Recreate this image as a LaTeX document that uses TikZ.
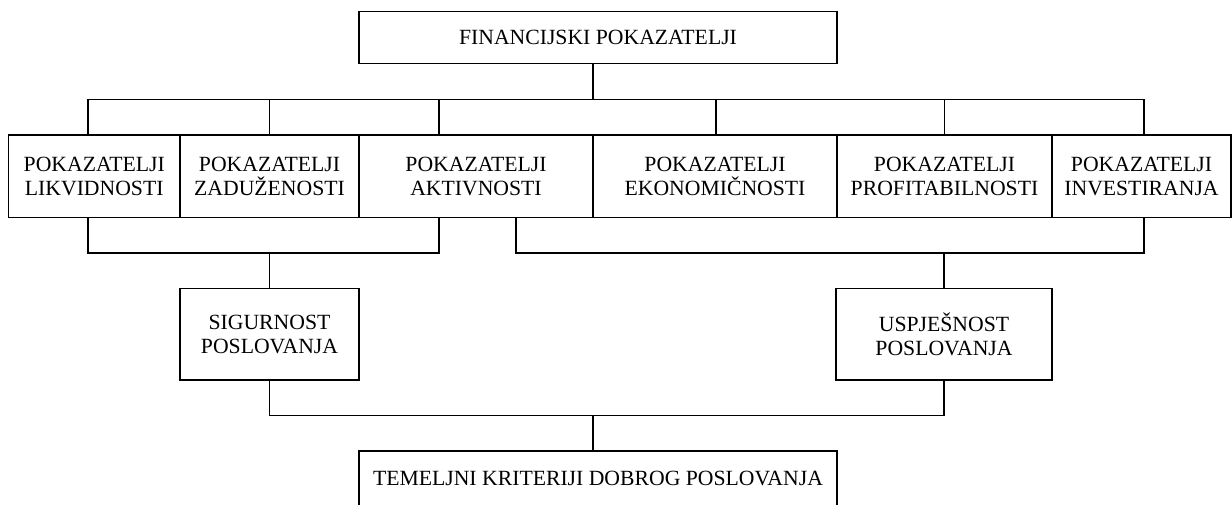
\documentclass[tikz,border=0pt]{standalone}
\usepackage{fontspec}
\setmainfont{Liberation Serif}
\begin{document}
\begin{tikzpicture}[x=1pt,y=-1pt,
  box/.style={draw, line width=1.4pt, inner sep=0pt, align=center,
    font=\fontsize{21.7}{23.3}\selectfont},
  conn/.style={line width=1.4pt}]
\useasboundingbox (0,0) rectangle (1232,504);
% top
\node[box, minimum width=478pt, minimum height=51.8pt] (F) at (598,37.6) {FINANCIJSKI POKAZATELJI};
% row of indicators
\node[box, minimum width=171.5pt, minimum height=82.7pt] (L1) at (94.25,176.35) {POKAZATELJI\\LIKVIDNOSTI};
\node[box, minimum width=179pt, minimum height=82.7pt] (L2) at (269.5,176.35) {POKAZATELJI\\ZADUŽENOSTI};
\node[box, minimum width=234pt, minimum height=82.7pt] (L3) at (476,176.35) {POKAZATELJI\\AKTIVNOSTI};
\node[box, minimum width=244pt, minimum height=82.7pt] (L4) at (715,176.35) {POKAZATELJI\\EKONOMIČNOSTI};
\node[box, minimum width=215pt, minimum height=82.7pt] (L5) at (944.5,176.35) {POKAZATELJI\\PROFITABILNOSTI};
\node[box, minimum width=179pt, minimum height=82.7pt] (L6) at (1141.5,176.35) {POKAZATELJI\\INVESTIRANJA};
% middle
\node[box, minimum width=179pt, minimum height=91.3pt] (S) at (269.5,334.35) {SIGURNOST\\POSLOVANJA};
\node[box, minimum width=216pt, minimum height=91.3pt] (U) at (944,334.35) {USPJEŠNOST\\POSLOVANJA};
% bottom
\node[box, minimum width=478pt, minimum height=55pt] (T) at (598,478.5) {TEMELJNI KRITERIJI DOBROG POSLOVANJA};
% top tree
\draw[conn] ([xshift=-5pt]F.south) -- ++(0,35.2) coordinate (jt);
\draw[conn] ([xshift=-6.25pt]L1.north) |- ([xshift=2.5pt]L6.north |- jt) -- ([xshift=2.5pt]L6.north);
\draw[conn] (L2.north) -- (L2.north |- jt);
\draw[conn] ([xshift=-37pt]L3.north) -- ([xshift=-37pt]L3.north |- jt);
\draw[conn] ([xshift=1pt]L4.north) -- ([xshift=1pt]L4.north |- jt);
\draw[conn] (L5.north) -- (L5.north |- jt);
% lower brackets
\draw[conn] ([xshift=-6.25pt]L1.south) -- ++(0,34.6) coordinate (jl) -| ([xshift=-37pt]L3.south);
\draw[conn] (S.north) -- (S.north |- jl);
\draw[conn] ([xshift=40pt]L3.south) -- ++(0,34.6) coordinate (jr) -| ([xshift=2.5pt]L6.south);
\draw[conn] (U.north) -- (U.north |- jr);
% bottom bracket
\draw[conn] (S.south) -- ++(0,35) coordinate (jb) -| (U.south);
\draw[conn] ([xshift=-5pt]T.north) -- ([xshift=-5pt]T.north |- jb);
\end{tikzpicture}
\end{document}
